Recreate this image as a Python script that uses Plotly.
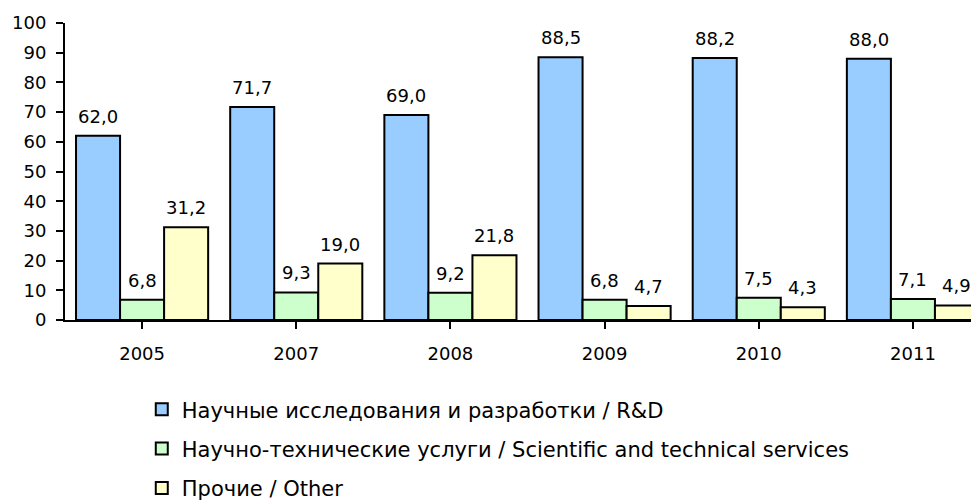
import plotly.graph_objects as go

years = ["2005", "2007", "2008", "2009", "2010", "2011"]
rd = [62.0, 71.7, 69.0, 88.5, 88.2, 88.0]
sts = [6.8, 9.3, 9.2, 6.8, 7.5, 7.1]
other = [31.2, 19.0, 21.8, 4.7, 4.3, 4.9]
names = ["Научные исследования и разработки / R&D",
         "Научно-технические услуги / Scientific and technical services",
         "Прочие / Other"]
colors = ["#99CCFF", "#CCFFCC", "#FFFFCC"]
y_ticks = list(range(0, 101, 10))

def fmt(v):
    return f"{v:.1f}".replace(".", ",")

BARGAP = 0.143
bar_w = (1 - BARGAP) / 3

fig = go.Figure()
annotations = []
series = [rd, sts, other]
for k, (vals, nm, col) in enumerate(zip(series, names, colors)):
    fig.add_trace(go.Bar(
        x=list(range(len(years))), y=vals, name=nm, legendgroup=f"g{k}",
        marker=dict(color=col, line=dict(color="black", width=2)),
    ))
    for i, v in enumerate(vals):
        annotations.append(dict(
            x=i + (k - 1) * bar_w, y=v, xref="x", yref="y",
            text=fmt(v), showarrow=False, yanchor="bottom", yshift=7,
            font=dict(size=18, color="black"),
        ))

fig.update_layout(
    width=971, height=495,
    margin=dict(l=57, r=0, t=15, b=183),
    paper_bgcolor="white", plot_bgcolor="white",
    font=dict(family="DejaVu Sans", size=18, color="black"),
    barmode="group", bargap=BARGAP, bargroupgap=0,
    showlegend=True,
    annotations=annotations,
    legend=dict(x=0.084, y=0.23, xref="paper", yref="container",
                xanchor="left", yanchor="top",
                orientation="v", traceorder="grouped", tracegroupgap=9,
                font=dict(size=21), itemwidth=30, bgcolor="rgba(0,0,0,0)"),
)
fig.update_xaxes(
    range=[-0.5, 5.5 - 11 / 154],
    tickmode="array", tickvals=list(range(len(years))), ticktext=years,
    tickson="boundaries", ticks="outside", ticklen=7, tickcolor="black", tickwidth=2,
    ticklabelstandoff=9, automargin=False,
    showline=True, linecolor="black", linewidth=2, showgrid=False, zeroline=False,
)
fig.update_yaxes(
    range=[0, 100], tickmode="array", tickvals=y_ticks,
    ticks="outside", ticklen=7, tickcolor="black", tickwidth=2,
    ticklabelstandoff=6, automargin=False,
    showline=True, linecolor="black", linewidth=2, showgrid=False, zeroline=False,
)
fig.write_html("out.html")
